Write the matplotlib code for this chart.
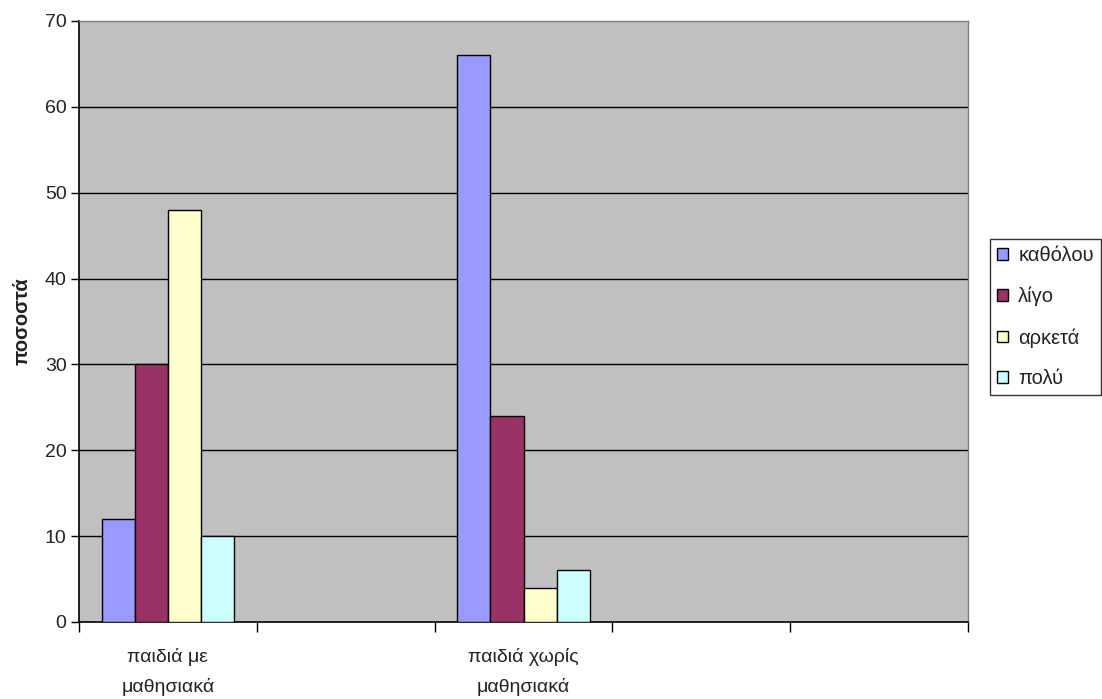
import matplotlib
matplotlib.use("Agg")
import matplotlib.pyplot as plt
import numpy as np

plt.rcParams['font.family'] = ['Liberation Sans', 'DejaVu Sans']

categories = ["παιδιά με\nμαθησιακά", "", "παιδιά χωρίς\nμαθησιακά", "", ""]
series_names = ["καθόλου", "λίγο", "αρκετά", "πολύ"]
series_values = [
    [12, 0, 66, 0, 0],
    [30, 0, 24, 0, 0],
    [48, 0, 4, 0, 0],
    [10, 0, 6, 0, 0],
]
series_colors = ["#9999FF", "#993366", "#FFFFCC", "#CCFFFF"]
y_ticks = [0, 10, 20, 30, 40, 50, 60, 70]

text_color = "#222222"

fig = plt.figure(figsize=(11.02, 6.99), dpi=100)
ax = fig.add_axes([0.0717, 0.1102, 0.8067, 0.8598])
ax.set_facecolor("#C0C0C0")

n_cat = len(categories)
x = np.arange(n_cat)
bar_w = 0.186
n_ser = len(series_names)
for i, (name, vals, col) in enumerate(zip(series_names, series_values, series_colors)):
    offs = (i - (n_ser - 1) / 2) * bar_w
    xs = [xi + offs for xi, v in zip(x, vals) if v > 0]
    vs = [v for v in vals if v > 0]
    ax.bar(xs, vs, width=bar_w, color=col, edgecolor="black", linewidth=1.0,
           label=name, zorder=3)

ax.set_xlim(-0.5, n_cat - 0.5)
ax.set_ylim(0, 70)

# horizontal gridlines
for t in y_ticks[1:-1]:
    ax.axhline(t, color="black", linewidth=1.0, zorder=1)

ax.set_yticks(y_ticks)
ax.tick_params(axis='y', direction='out', length=6, width=1, pad=3,
               labelsize=14, labelcolor=text_color)

# category boundaries as ticks, labels centred in each slot
ax.set_xticks(np.arange(-0.5, n_cat, 1.0))
ax.set_xticklabels([])
ax.tick_params(axis='x', which='major', direction='out', length=7, width=1)
ax.set_xticks(x, minor=True)
ax.set_xticklabels(categories, minor=True, linespacing=1.8)
ax.tick_params(axis='x', which='minor', length=0, pad=19, labelsize=14,
               labelcolor=text_color)

for s in ["left", "bottom"]:
    ax.spines[s].set_color("black")
    ax.spines[s].set_linewidth(1.2)
for s in ["top", "right"]:
    ax.spines[s].set_color("#808080")
    ax.spines[s].set_linewidth(1.0)

ax.set_ylabel("ποσοστά", fontsize=14.5, fontweight="bold", color=text_color)
ax.yaxis.set_label_coords(-0.053, 0.5)

leg = ax.legend(loc="center left", bbox_to_anchor=(1.0247, 0.507), frameon=True,
                fancybox=False, edgecolor="black", fontsize=14.5,
                handlelength=0.55, handleheight=0.5, handletextpad=0.5,
                labelspacing=1.08, borderpad=0.35, borderaxespad=0)
leg.get_frame().set_linewidth(1.0)
for t in leg.get_texts():
    t.set_color(text_color)

fig.savefig("out.png", dpi=100, facecolor="white")
